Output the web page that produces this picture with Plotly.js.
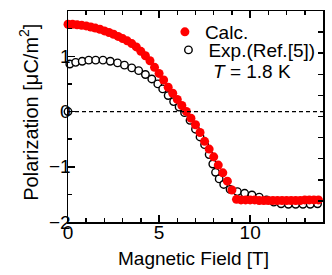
<!DOCTYPE html>
<html>
<head>
<meta charset="utf-8">
<script src="https://cdn.plot.ly/plotly-3.0.1.min.js"></script>
<style>html,body{margin:0;padding:0;background:#fff;}#chart{width:332px;height:275px;}</style>
</head>
<body>
<div id="chart"></div>
<script>
// Calculated polarization (red filled circles)
var calcField = [0,0.25,0.5,0.75,1,1.25,1.5,1.75,2,2.25,2.5,2.75,3,3.25,3.5,3.75,4,4.25,4.5,4.75,5,5.25,5.5,5.75,6,6.25,6.5,6.75,7,7.25,7.5,7.75,8,8.25,8.5,8.75,9,9.25,9.5,9.75,10,10.25,10.5,10.75,11,11.25,11.5,11.75,12,12.25,12.5,12.75,13,13.25,13.5,13.75];
var calcPol = [1.58,1.58,1.57,1.56,1.55,1.53,1.51,1.49,1.46,1.43,1.40,1.36,1.32,1.28,1.23,1.17,1.09,1.01,0.92,0.80,0.69,0.57,0.44,0.33,0.22,0.11,0.00,-0.12,-0.24,-0.38,-0.54,-0.68,-0.82,-0.97,-1.11,-1.26,-1.42,-1.59,-1.60,-1.60,-1.60,-1.60,-1.61,-1.61,-1.61,-1.61,-1.61,-1.61,-1.61,-1.61,-1.61,-1.61,-1.60,-1.60,-1.60,-1.60];
// Experimental polarization (open circles, Ref.[5])
var expField = [0,0.1,0.42,0.78,1.14,1.52,1.92,2.32,2.72,3.1,3.5,3.88,4.25,4.6,4.93,5.2,5.5,5.8,6.1,6.4,6.7,7.0,7.25,7.5,7.75,7.95,8.1,8.3,8.55,8.9,9.3,9.7,10.1,10.5,10.9,11.3,11.7,12.1,12.5,12.9,13.3,13.7];
var expPol = [0,0.86,0.89,0.91,0.93,0.93,0.93,0.91,0.88,0.84,0.79,0.74,0.67,0.59,0.50,0.41,0.29,0.18,0.08,-0.02,-0.16,-0.32,-0.46,-0.60,-0.78,-0.95,-1.10,-1.22,-1.32,-1.41,-1.45,-1.48,-1.51,-1.55,-1.60,-1.64,-1.67,-1.68,-1.68,-1.68,-1.68,-1.67];

var F = 'Liberation Sans, Arial, Helvetica, sans-serif';
var fs = 19;

var traces = [
  {x: expField, y: expPol, type: 'scatter', mode: 'markers', name: 'Exp.(Ref.[5])', legend: 'legend2',
   cliponaxis: false,
   marker: {symbol: 'circle', size: 7.5, color: '#ffffff', line: {color: '#000000', width: 1.4}}},
  {x: calcField, y: calcPol, type: 'scatter', mode: 'markers', name: 'Calc.', legend: 'legend',
   cliponaxis: false,
   marker: {symbol: 'circle', size: 9, color: '#ff0000', line: {color: '#ff0000', width: 0}}},
  {x: [null], y: [null], yaxis: 'y2', type: 'scatter', mode: 'markers', showlegend: false, hoverinfo: 'skip'}
];

var layout = {
  width: 332, height: 275,
  margin: {l: 68, r: 9, t: 11, b: 53},
  paper_bgcolor: '#fff', plot_bgcolor: '#fff',
  font: {family: F, size: fs, color: '#000'},
  showlegend: true,
  xaxis: {
    range: [0, 14], tick0: 0, dtick: 5, ticks: 'inside', ticklen: 7, tickwidth: 1.5, tickcolor: '#000',
    minor: {dtick: 1, ticks: 'inside', ticklen: 4, tickwidth: 1.5, tickcolor: '#000'},
    showline: true, linewidth: 1.5, linecolor: '#000', mirror: 'ticks',
    showgrid: false, zeroline: false, tickfont: {size: fs}, ticklabelstandoff: -7,
    automargin: false
  },
  yaxis: {
    range: [-2, 1.82], tick0: 0, dtick: 1, ticks: 'inside', ticklen: 7, tickwidth: 1.5, tickcolor: '#000',
    minor: {dtick: 0.5, ticks: 'inside', ticklen: 4, tickwidth: 1.5, tickcolor: '#000'},
    showline: true, linewidth: 1.5, linecolor: '#000', mirror: true,
    showgrid: false, zeroline: false, tickfont: {size: fs}, ticklabelstandoff: -8,
    automargin: false
  },
  yaxis2: {
    overlaying: 'y', side: 'right', anchor: 'x', range: [0, 10], dtick: 1,
    ticks: 'inside', ticklen: 5, tickwidth: 1.5, tickcolor: '#000',
    showticklabels: false, showline: false, showgrid: false, zeroline: false
  },
  shapes: [
    {type: 'line', xref: 'paper', yref: 'y', x0: 0, x1: 1, y0: 0, y1: 0,
     line: {color: '#000', width: 1.2, dash: '4px,3px'}}
  ],
  legend: {x: 0.380, xanchor: 'left', y: 0.9005, yanchor: 'middle', bgcolor: 'rgba(0,0,0,0)',
           font: {size: fs}, borderwidth: 0},
  legend2: {x: 0.99, xanchor: 'right', y: 0.815, yanchor: 'middle', bgcolor: 'rgba(0,0,0,0)',
            font: {size: fs}, borderwidth: 0},
  annotations: [
    {xref: 'paper', yref: 'paper', x: 0.561, y: 0.711, xanchor: 'left', yanchor: 'middle',
     text: '<i>T</i> = 1.8 K', showarrow: false, font: {size: fs}},
    {xref: 'paper', yref: 'paper', x: 0.494, y: -0.171, xanchor: 'center', yanchor: 'middle',
     text: 'Magnetic Field [T]', showarrow: false, font: {size: fs}},
    {xref: 'paper', yref: 'paper', x: -0.155, y: 0.52, xanchor: 'center', yanchor: 'middle',
     textangle: -90, text: 'Polarization [μC/m<sup>2</sup>]', showarrow: false, font: {size: 20}}
  ]
};

Plotly.newPlot('chart', traces, layout, {displayModeBar: false, staticPlot: true});
</script>
</body>
</html>
